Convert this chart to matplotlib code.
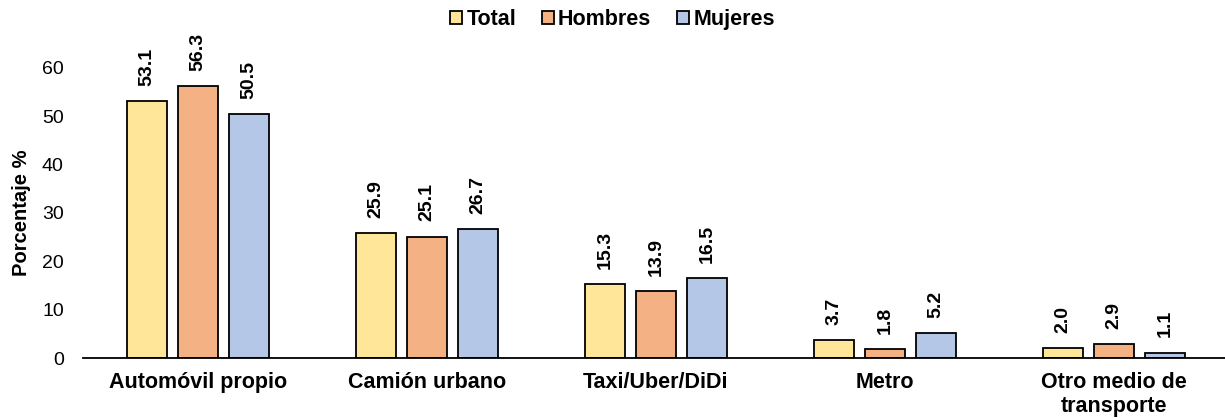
import numpy as np
import matplotlib.pyplot as plt
from matplotlib.patches import Patch

plt.rcParams['font.family'] = ['Liberation Sans', 'DejaVu Sans']

categorias = ['Automóvil propio', 'Camión urbano', 'Taxi/Uber/DiDi', 'Metro',
              'Otro medio de\ntransporte']
total = [53.1, 25.9, 15.3, 3.7, 2.0]
hombres = [56.3, 25.1, 13.9, 1.8, 2.9]
mujeres = [50.5, 26.7, 16.5, 5.2, 1.1]

series = [('Total', total, '#FFE699'),
          ('Hombres', hombres, '#F4B183'),
          ('Mujeres', mujeres, '#B4C7E7')]

fig = plt.figure(figsize=(12.25, 4.18), dpi=100)
ax = fig.add_axes([0.068, 0.1435, 0.935, 0.694])

x = np.arange(len(categorias))
ancho = 0.175
paso = 0.223

for i, (nombre, valores, color) in enumerate(series):
    pos = x + (i - 1) * paso
    barras = ax.bar(pos, valores, width=ancho, color=color, edgecolor='black',
                    linewidth=1.3, label=nombre)
    for b, v in zip(barras, valores):
        ax.annotate(f'{v:.1f}', (b.get_x() + b.get_width() / 2, v),
                    xytext=(0, 11), textcoords='offset points',
                    ha='center', va='bottom', rotation=90,
                    fontsize=14, fontweight='bold', annotation_clip=False)

ax.set_xlim(-0.5, 4.5)
ax.set_ylim(0, 60)
ax.set_yticks(range(0, 61, 10))
ax.set_xticks(x)
ax.set_xticklabels(categorias, fontsize=15.5, fontweight='bold',
                   linespacing=1.2)
ax.tick_params(axis='both', length=0)
ax.tick_params(axis='x', pad=10)
ax.tick_params(axis='y', labelsize=14, pad=14)
ax.set_ylabel('Porcentaje %', fontsize=14.5, fontweight='bold', labelpad=8)

for lado in ['top', 'right', 'left']:
    ax.spines[lado].set_visible(False)
ax.spines['bottom'].set_linewidth(1.3)

manejadores = [Patch(facecolor=c, edgecolor='black', linewidth=1.3, label=n)
               for n, _, c in series]
fig.legend(handles=manejadores, loc='center', bbox_to_anchor=(0.5, 0.953),
           ncol=3, frameon=False, handlelength=0.55, handleheight=0.55,
           handletextpad=0.2, columnspacing=1.2,
           prop={'size': 15.5, 'weight': 'bold'})

fig.savefig('out.png', dpi=100)
